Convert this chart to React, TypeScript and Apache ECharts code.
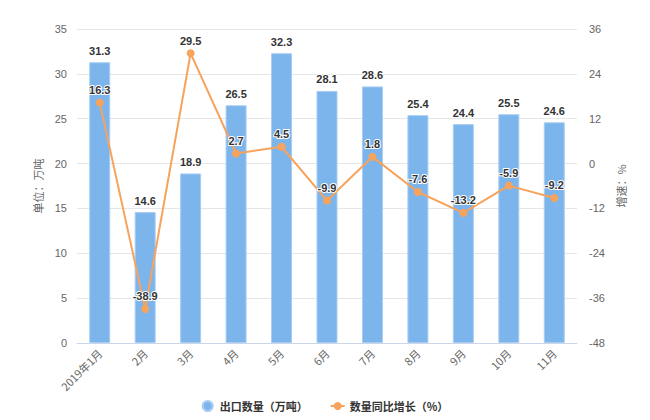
import React, { useEffect, useRef } from "react";
import * as echarts from "echarts";

const categories = ["2019年1月", "2月", "3月", "4月", "5月", "6月", "7月", "8月", "9月", "10月", "11月"];
const exportVolume = [31.3, 14.6, 18.9, 26.5, 32.3, 28.1, 28.6, 25.4, 24.4, 25.5, 24.6];
const yoyGrowth = [16.3, -38.9, 29.5, 2.7, 4.5, -9.9, 1.8, -7.6, -13.2, -5.9, -9.2];

const labelStyle = {
  show: true,
  color: "#333",
  fontSize: 11,
  fontWeight: "bold" as const,
  fontFamily: "Liberation Sans, Arial, sans-serif",
  textBorderColor: "#fff",
  textBorderWidth: 2,
};

export default function App() {
  const ref = useRef<HTMLDivElement>(null);
  useEffect(() => {
    if (!ref.current) return;
    const chart = echarts.init(ref.current, undefined, { renderer: "svg" });
    chart.setOption({
      animation: false,
      backgroundColor: "#fff",
      textStyle: { fontFamily: "Liberation Sans, Arial, sans-serif" },
      grid: { left: 77, right: 73, top: 29, bottom: 77 },
      legend: {
        top: 395,
        left: "center",
        itemGap: 22,
        itemWidth: 14,
        itemHeight: 10,
        textStyle: { color: "#333", fontSize: 11, fontWeight: "bold", fontFamily: "Noto Sans CJK SC" },
        data: [
          { name: "出口数量（万吨）", icon: "circle" },
          { name: "数量同比增长（%）" },
        ],
      },
      xAxis: {
        type: "category",
        data: categories,
        axisLine: { lineStyle: { color: "#ccd6eb" } },
        axisTick: { alignWithLabel: true, lineStyle: { color: "#ccd6eb" }, length: 8 },
        axisLabel: { rotate: 45, color: "#666", fontSize: 11, fontFamily: "Noto Sans CJK SC", margin: 8 },
      },
      yAxis: [
        {
          type: "value",
          min: 0,
          max: 35,
          interval: 5,
          name: "单位：万吨",
          nameLocation: "middle",
          nameGap: 30,
          nameTextStyle: { color: "#666", fontSize: 11, fontFamily: "Noto Sans CJK SC" },
          axisLine: { show: false },
          axisTick: { show: false },
          axisLabel: { color: "#666", fontSize: 11, margin: 10 },
          splitLine: { lineStyle: { color: "#e6e6e6" } },
        },
        {
          type: "value",
          min: -48,
          max: 36,
          interval: 12,
          name: "增速：%",
          nameLocation: "middle",
          nameRotate: 90,
          nameGap: 38,
          nameTextStyle: { color: "#666", fontSize: 11, fontFamily: "Noto Sans CJK SC" },
          axisLine: { show: false },
          axisTick: { show: false },
          axisLabel: { color: "#666", fontSize: 11, margin: 12 },
          splitLine: { show: false },
        },
      ],
      series: [
        {
          name: "出口数量（万吨）",
          type: "bar",
          data: exportVolume,
          barWidth: 21,
          yAxisIndex: 0,
          itemStyle: { color: "#7cb5ec", borderColor: "#a9cdf2", borderWidth: 1 },
          label: { ...labelStyle, position: "top", distance: 6 },
        },
        {
          name: "数量同比增长（%）",
          type: "line",
          data: yoyGrowth,
          yAxisIndex: 1,
          symbol: "circle",
          symbolSize: 8,
          itemStyle: { color: "#f7a35c" },
          lineStyle: { color: "#f7a35c", width: 2 },
          label: { ...labelStyle, position: "top", distance: 3 },
        },
      ],
    });
    return () => chart.dispose();
  }, []);
  return <div ref={ref} style={{ position: "absolute", left: 0, top: 0, width: 650, height: 420 }} />;
}
